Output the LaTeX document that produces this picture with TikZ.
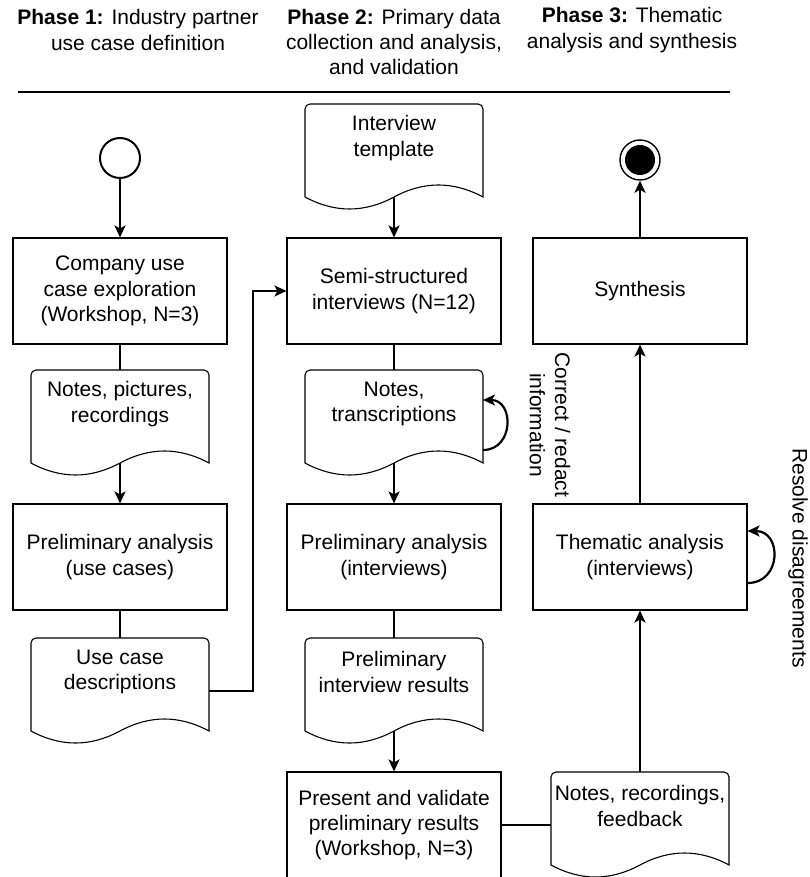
\documentclass[tikz,border=0pt]{standalone}
\usepackage{fontspec}
\setmainfont{Liberation Sans}
\usetikzlibrary{arrows.meta}

\tikzset{
  box/.style={draw, line width=1.1pt, minimum width=214pt, minimum height=106pt, align=center},
  docline/.style={line width=1.1pt},
  doctext/.style={align=center},
  flow/.style={line width=2.2pt},
  note/.style={align=center, rotate=-90},
}

% document shape drawn round a text node (text sits in the upper part)
\newcommand{\docshape}[1]{%
  \draw[docline] ([shift={(-89pt,-59pt)}]#1.center) -- ([shift={(-89pt,29pt)}]#1.center)
    arc[start angle=180, end angle=90, radius=5pt] -- ([shift={(84pt,34pt)}]#1.center)
    arc[start angle=90, end angle=0, radius=5pt] -- ([shift={(89pt,-59pt)}]#1.center)
    .. controls ([shift={(59.3pt,-43pt)}]#1.center) and ([shift={(29.7pt,-43pt)}]#1.center) .. ([shift={(0pt,-59pt)}]#1.center)
    .. controls ([shift={(-29.7pt,-75pt)}]#1.center) and ([shift={(-59.3pt,-75pt)}]#1.center) .. cycle;
}

\begin{document}
\begin{tikzpicture}[x=1pt, y=-1pt, font=\fontsize{21}{25.2}\selectfont,
  >={Stealth[length=12pt, width=11pt, inset=3pt]}]
\useasboundingbox (0,0) rectangle (810,877);

% phase headings
\node[align=center] (ph1) at (138,30) {\textbf{Phase 1:} Industry partner\\use case definition};
\node[align=center] (ph2) at (394,42) {\textbf{Phase 2:} Primary data\\collection and analysis,\\and validation};
\node[align=center] (ph3) at (632,30) {\textbf{Phase 3:} Thematic\\analysis and synthesis};
\draw[line width=2.6pt] (18,92) -- (730,92);

% phase 1
\node[circle, draw, line width=2pt, minimum size=40pt] (start) at (120,158) {};
\node[box] (explore) at (120,291) {Company use\\case exploration\\(Workshop, N=3)};
\node[doctext] (pics) at (120,404) {Notes, pictures,\\recordings};
\docshape{pics}
\node[box] (prel1) at (120,557) {Preliminary analysis\\(use cases)};
\node[doctext] (ucd) at (120,672) {Use case\\descriptions};
\docshape{ucd}

% phase 2
\node[doctext] (tmpl) at (394,138) {Interview\\template};
\docshape{tmpl}
\node[box] (semi) at (394,291) {Semi-structured\\interviews (N=12)};
\node[doctext] (trans) at (394,404) {Notes,\\transcriptions};
\docshape{trans}
\node[box] (prel2) at (394,557) {Preliminary analysis\\(interviews)};
\node[doctext] (pres) at (394,672) {Preliminary\\interview results};
\docshape{pres}
\node[box] (valid) at (394,825) {Present and validate\\preliminary results\\(Workshop, N=3)};

% phase 3
\node[circle, draw, line width=1.4pt, minimum size=40pt] (stop) at (640,160) {};
\fill (stop) circle[radius=15pt];
\node[box] (synth) at (640,291) {Synthesis};
\node[box] (them) at (640,557) {Thematic analysis\\(interviews)};
\node[doctext] (fb) at (640,806) {Notes, recordings,\\feedback};
\docshape{fb}

\node[note] (redact) at (550,425) {Correct / redact\\information};
\node[note] (resolve) at (798,558) {Resolve disagreements};

% connectors
\draw[flow,->] (start) -- (explore);
\draw[flow] (explore) -- ([yshift=34pt]pics.center);
\draw[flow,->] ([yshift=-59pt]pics.center) -- (prel1);
\draw[flow] (prel1) -- ([yshift=34pt]ucd.center);
\draw[flow,->] ([shift={(89pt,-19pt)}]ucd.center) -- ++(44,0) |- (semi);

\draw[flow,->] ([yshift=-59pt]tmpl.center) -- (semi);
\draw[flow] (semi) -- ([yshift=34pt]trans.center);
\draw[flow,->] ([shift={(89pt,-46pt)}]trans.center) to[out=0, in=0, looseness=1.6] ([shift={(89pt,4pt)}]trans.center);
\draw[flow,->] ([yshift=-59pt]trans.center) -- (prel2);
\draw[flow] (prel2) -- ([yshift=34pt]pres.center);
\draw[flow,->] ([yshift=-59pt]pres.center) -- (valid);
\draw[flow] (valid) -- ([shift={(-89pt,-19pt)}]fb.center);

\draw[flow,->] ([yshift=34pt]fb.center) -- (them);
\draw[flow,->] ([yshift=-26pt]them.east) to[out=0, in=0, looseness=1.7] ([yshift=26pt]them.east);
\draw[flow,->] (them) -- (synth);
\draw[flow,->] (synth) -- (stop);
\end{tikzpicture}
\end{document}
